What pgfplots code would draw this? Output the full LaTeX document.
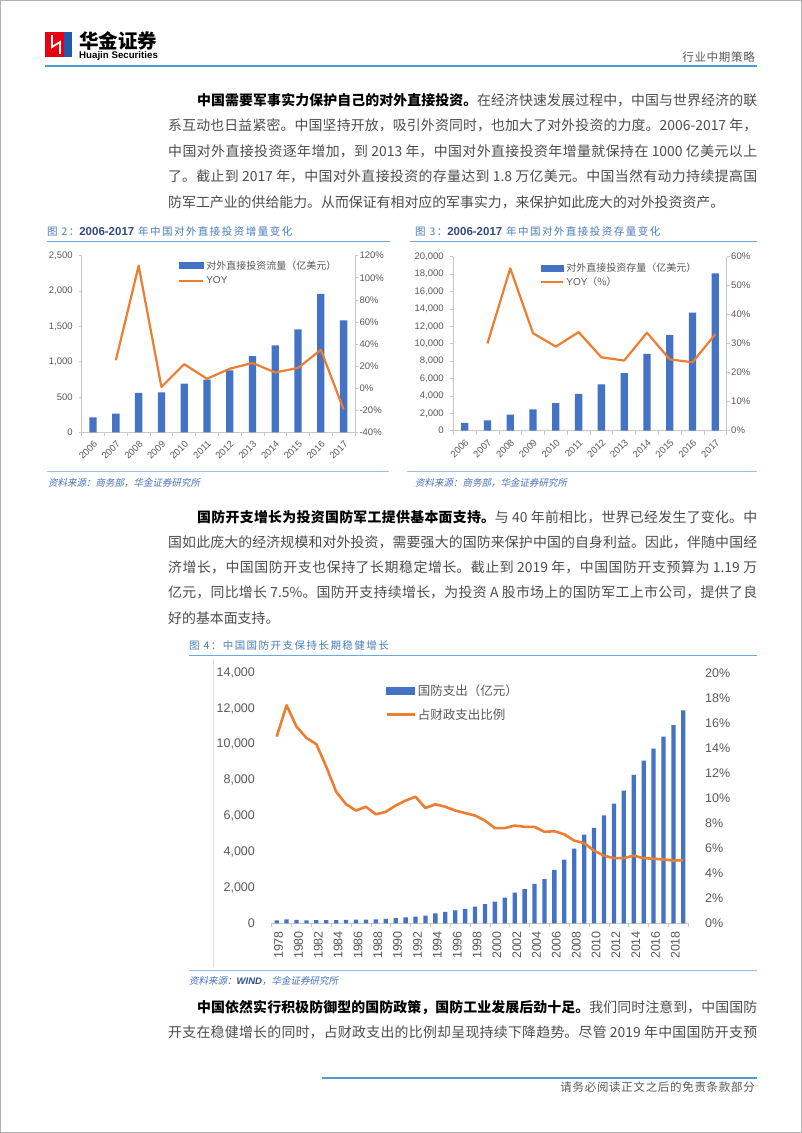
\documentclass[border=0pt]{standalone}
\usepackage{fontspec}
\usepackage{xcolor}
\usepackage{pgfplots}
\pgfplotsset{compat=1.18}
\setmainfont{Noto Sans CJK SC}
\newfontfamily\ttlfont{Noto Sans CJK SC}[LetterSpace=14]
\newfontfamily\hdrfont{Noto Sans CJK SC}[LetterSpace=6]
\newfontfamily\srcfont{Noto Sans CJK SC}[FakeSlant=0.2]
\newfontfamily\arialf{Liberation Sans}
\XeTeXlinebreaklocale "zh"
\XeTeXlinebreakskip=0pt plus 3pt minus 0.3pt

\definecolor{barblue}{HTML}{4472C4}
\definecolor{lineorange}{HTML}{ED7D31}
\definecolor{ttlblue}{HTML}{4A7EBB}
\definecolor{ttlnavy}{HTML}{2F4B86}
\definecolor{rulblue}{HTML}{6FA8DC}
\definecolor{hdrblue}{HTML}{4F9AD8}
\definecolor{axgray}{HTML}{C8C8C8}
\definecolor{tickgray}{HTML}{595959}
\definecolor{bodygray}{HTML}{4D4D4D}
\definecolor{srcblue}{HTML}{4472C4}
\definecolor{logored}{HTML}{E60012}
\definecolor{logoblue}{HTML}{1E5AA8}

\pgfplotsset{
  smallchart/.style={
    scale only axis, anchor=south west,
    xmin=-0.5, xmax=11.5,
    axis line style={-, draw=axgray, line width=0.7pt},
    tick style={draw=axgray, line width=0.7pt},
    major tick length=3pt, minor tick length=4pt, tick align=outside,
    ticklabel style={font=\arialf\fontsize{9.5pt}{10pt}\selectfont, text=tickgray},
    scaled y ticks=false,
    /pgf/number format/1000 sep={,},
    /pgf/number format/assume math mode=true,
    clip=false,
  },
  bigchart/.style={
    scale only axis, anchor=south west,
    xmin=-0.5, xmax=41.5,
    axis line style={-, draw=axgray, line width=0.7pt},
    tick style={draw=axgray, line width=0.7pt},
    minor tick length=4pt, tick align=outside,
    ticklabel style={font=\arialf\fontsize{12.5pt}{13pt}\selectfont, text=tickgray},
    scaled y ticks=false,
    /pgf/number format/1000 sep={,},
    /pgf/number format/assume math mode=true,
    clip=false,
  },
}

\newcommand{\srcline}[1]{{\srcfont\fontsize{9.5pt}{10pt}\selectfont\color{srcblue}#1}}

\begin{document}
\begin{tikzpicture}
\fill[white] (0pt,0pt) rectangle (802pt,-1133pt);
\draw[gray!60, line width=1pt] (0.5pt,-0.5pt) rectangle (801.5pt,-1132.5pt);

% ---------- header ----------
\fill[logored] (45pt,-31.7pt) rectangle (63.5pt,-57pt);
\fill[logoblue] (63.5pt,-31.7pt) rectangle (71.7pt,-57pt);
\draw[white, line width=1.8pt] (52pt,-35pt) -- (52pt,-47pt) -- (60pt,-42pt) -- (60pt,-54pt);
\node[anchor=base west, inner sep=0pt] at (79pt,-48.5pt) {\fontsize{19.5pt}{20pt}\selectfont\bfseries 华金证券};
\node[anchor=base west, inner sep=0pt] at (79pt,-58pt) {\arialf\fontsize{9.7pt}{10pt}\selectfont\bfseries Huajin Securities};
\node[anchor=base east, inner sep=0pt, text=tickgray] at (755pt,-61pt) {\hdrfont\fontsize{11.5pt}{12pt}\selectfont 行业中期策略};
\draw[hdrblue, line width=1.8pt] (45pt,-66pt) -- (757pt,-66pt);

% ---------- paragraph 1 ----------
\node[anchor=base west, inner sep=0pt] at (168pt,-105.2pt) {\parbox[t]{589pt}{\fontsize{13.9pt}{25.5pt}\selectfont\leavevmode\color{bodygray}%
\hspace*{29pt}{\bfseries\color{black}中国需要军事实力保护自己的对外直接投资。}在经济快速发展过程中，中国与世界经济的联\linebreak
系互动也日益紧密。中国坚持开放，吸引外资同时，也加大了对外投资的力度。2006-2017 年，\linebreak
中国对外直接投资逐年增加，到 2013 年，中国对外直接投资年增量就保持在 1000 亿美元以上\linebreak
了。截止到 2017 年，中国对外直接投资的存量达到 1.8 万亿美元。中国当然有动力持续提高国\linebreak
防军工产业的供给能力。从而保证有相对应的军事实力，来保护如此庞大的对外投资资产。}};

% ---------- chart titles 2 & 3 ----------
\node[anchor=base west, inner sep=0pt, text=ttlblue] at (47pt,-235pt) {\ttlfont\fontsize{10.5pt}{12pt}\selectfont 图 2：{\arialf\bfseries\fontsize{11.5pt}{12pt}\selectfont\color{ttlnavy}2006-2017} 年中国对外直接投资增量变化};
\draw[rulblue, line width=0.8pt] (47pt,-241pt) -- (390pt,-241pt);
\node[anchor=base west, inner sep=0pt, text=ttlblue] at (415pt,-235pt) {\ttlfont\fontsize{10.5pt}{12pt}\selectfont 图 3：{\arialf\bfseries\fontsize{11.5pt}{12pt}\selectfont\color{ttlnavy}2006-2017} 年中国对外直接投资存量变化};
\draw[rulblue, line width=0.8pt] (410pt,-241pt) -- (757pt,-241pt);

% ---------- chart 2 (flow) ----------
\begin{axis}[smallchart, at={(81.7pt,-432.3pt)}, width=273.3pt, height=176.6pt,
  ymin=0, ymax=2500, ytick={0,500,...,2500},
  axis x line*=bottom, axis y line*=left,
  yticklabel style={xshift=-2.5pt},
  xtick={0,...,11},
  xticklabels={2006,2007,2008,2009,2010,2011,2012,2013,2014,2015,2016,2017},
  major x tick style={draw=none},
  minor xtick={-0.5,0.5,...,11.5},
  xticklabel style={rotate=45, anchor=north east},
]
\addplot[ybar, bar width=7.3pt, fill=barblue, draw=none] coordinates {
 (0,212) (1,265) (2,559) (3,565) (4,688) (5,746) (6,878) (7,1078) (8,1231) (9,1457) (10,1961) (11,1583)};
\end{axis}
\begin{axis}[smallchart, at={(81.7pt,-432.3pt)}, width=273.3pt, height=176.6pt,
  ymin=-40, ymax=120, ytick={-40,-20,...,120},
  axis y line*=right, axis x line=none,
  yticklabel={\pgfmathprintnumber{\tick}\%},
  yticklabel style={xshift=-2pt},
  legend style={at={(0.352,0.985)}, anchor=north west, draw=none, fill=none,
    font=\fontsize{10pt}{11pt}\selectfont, text=tickgray, inner sep=0pt, row sep=2pt,
    cells={anchor=west}},
]
\addlegendimage{legend image code/.code={\fill[barblue] (0pt,-3pt) rectangle (24pt,3pt);}}
\addlegendentry{对外直接投资流量（亿美元）}
\addplot[lineorange, line width=2.2pt, line join=round,
  legend image code/.code={\draw[lineorange, line width=2.2pt] (0pt,0pt) -- (24pt,0pt);}] coordinates {
 (1,25.3) (2,110.9) (3,1.1) (4,21.7) (5,8.5) (6,17.6) (7,22.8) (8,14.2) (9,18.3) (10,34.7) (11,-19.3)};
\addlegendentry{\arialf YOY}
\end{axis}

% ---------- chart 3 (stock) ----------
\begin{axis}[smallchart, at={(453.3pt,-430.7pt)}, width=273.4pt, height=174pt,
  ymin=0, ymax=20000, ytick={0,2000,...,20000},
  axis x line*=bottom, axis y line*=left,
  yticklabel style={xshift=-3pt},
  xtick={0,...,11},
  xticklabels={2006,2007,2008,2009,2010,2011,2012,2013,2014,2015,2016,2017},
  major x tick style={draw=none},
  minor xtick={-0.5,0.5,...,11.5},
  xticklabel style={rotate=45, anchor=north east},
]
\addplot[ybar, bar width=7.3pt, fill=barblue, draw=none] coordinates {
 (0,906) (1,1179) (2,1840) (3,2458) (4,3172) (5,4248) (6,5319) (7,6605) (8,8826) (9,10979) (10,13574) (11,18090)};
\end{axis}
\begin{axis}[smallchart, at={(453.3pt,-430.7pt)}, width=273.4pt, height=174pt,
  ymin=0, ymax=60, ytick={0,10,...,60},
  axis y line*=right, axis x line=none,
  yticklabel={\pgfmathprintnumber{\tick}\%},
  yticklabel style={xshift=-2pt},
  legend style={at={(0.317,0.975)}, anchor=north west, draw=none, fill=none,
    font=\fontsize{10pt}{11pt}\selectfont, text=tickgray, inner sep=0pt, row sep=0pt,
    cells={anchor=west}},
]
\addlegendimage{legend image code/.code={\fill[barblue] (0pt,-3pt) rectangle (22pt,3pt);}}
\addlegendentry{对外直接投资存量（亿美元）}
\addplot[lineorange, line width=2.2pt, line join=round,
  legend image code/.code={\draw[lineorange, line width=2.2pt] (0pt,0pt) -- (22pt,0pt);}] coordinates {
 (1,30.1) (2,56.0) (3,33.6) (4,29.0) (5,34.0) (6,25.3) (7,24.2) (8,33.8) (9,24.6) (10,23.6) (11,33.3)};
\addlegendentry{{\arialf YOY}（\%）}
\end{axis}

% ---------- sources ----------
\draw[rulblue!70, line width=0.7pt] (47pt,-471.7pt) -- (389pt,-471.7pt);
\draw[rulblue!70, line width=0.7pt] (407pt,-471.7pt) -- (757pt,-471.7pt);
\node[anchor=base west, inner sep=0pt] at (48pt,-486pt) {\srcline{资料来源：商务部，华金证券研究所}};
\node[anchor=base west, inner sep=0pt] at (415pt,-486pt) {\srcline{资料来源：商务部，华金证券研究所}};

% ---------- paragraph 2 ----------
\node[anchor=base west, inner sep=0pt] at (168pt,-522.2pt) {\parbox[t]{589pt}{\fontsize{13.9pt}{25.2pt}\selectfont\leavevmode\color{bodygray}%
\hspace*{29pt}{\bfseries\color{black}国防开支增长为投资国防军工提供基本面支持。}与 40 年前相比，世界已经发生了变化。中\linebreak
国如此庞大的经济规模和对外投资，需要强大的国防来保护中国的自身利益。因此，伴随中国经\linebreak
济增长，中国国防开支也保持了长期稳定增长。截止到 2019 年，中国国防开支预算为 1.19 万\linebreak
亿元，同比增长 7.5\%。国防开支持续增长，为投资 A 股市场上的国防军工上市公司，提供了良\linebreak
好的基本面支持。}};

% ---------- chart 4 ----------
\node[anchor=base west, inner sep=0pt, text=ttlblue] at (189pt,-649pt) {\ttlfont\fontsize{10.5pt}{12pt}\selectfont 图 4：中国国防开支保持长期稳健增长};
\draw[rulblue, line width=0.8pt] (189pt,-655pt) -- (757pt,-655pt);
\draw[gray!25, line width=0.8pt] (213pt,-658pt) -- (213pt,-967pt);

\begin{axis}[bigchart, at={(271.7pt,-923.3pt)}, width=416.6pt, height=250.6pt,
  ymin=0, ymax=14000, ytick={0,2000,...,14000},
  axis x line*=bottom, axis y line*=left,
  y axis line style={draw=none},
  major y tick style={draw=none},
  major x tick style={draw=none},
  xtick={0,2,...,40},
  xticklabels={1978,1980,1982,1984,1986,1988,1990,1992,1994,1996,1998,2000,2002,2004,2006,2008,2010,2012,2014,2016,2018},
  minor xtick={-0.5,1.5,...,41.5},
  xticklabel style={rotate=90, anchor=east, yshift=-2pt},
  yticklabel style={xshift=-9pt},
]
\addplot[ybar, bar width=4.3pt, fill=barblue, draw=none] coordinates {
 (0,167.8) (1,222.6) (2,193.8) (3,168.0) (4,176.4) (5,177.1) (6,180.8) (7,191.5) (8,200.8) (9,209.6)
 (10,218.0) (11,251.5) (12,290.3) (13,330.3) (14,377.9) (15,425.8) (16,550.7) (17,636.7) (18,720.1) (19,812.6)
 (20,934.7) (21,1076.4) (22,1207.5) (23,1442.0) (24,1707.8) (25,1907.9) (26,2200.0) (27,2475.0) (28,2979.4) (29,3554.9)
 (30,4178.8) (31,4951.1) (32,5333.4) (33,6027.9) (34,6691.9) (35,7410.6) (36,8289.5) (37,9087.8) (38,9765.8) (39,10432.4)
 (40,11069.5) (41,11898.8)};
\end{axis}
\begin{axis}[bigchart, at={(271.7pt,-923.3pt)}, width=416.6pt, height=250.6pt,
  ymin=0, ymax=20, ytick={0,2,...,20},
  axis y line*=right, axis x line=none,
  y axis line style={draw=none},
  major y tick style={draw=none},
  yticklabel={\pgfmathprintnumber{\tick}\%},
  yticklabel style={xshift=9pt},
  legend style={at={(0.272,0.962)}, anchor=north west, draw=none, fill=none,
    font=\fontsize{12.5pt}{13pt}\selectfont, text=tickgray, inner sep=0pt, row sep=8pt,
    cells={anchor=west}},
]
\addlegendimage{legend image code/.code={\fill[barblue] (0pt,-3.5pt) rectangle (28pt,3.5pt);}}
\addlegendentry{国防支出（亿元）}
\addplot[lineorange, line width=2.6pt, line join=round,
  legend image code/.code={\draw[lineorange, line width=2.6pt] (0pt,0pt) -- (28pt,0pt);}] coordinates {
 (0,14.9) (1,17.4) (2,15.7) (3,14.8) (4,14.3) (5,12.5) (6,10.5) (7,9.5) (8,9.0) (9,9.3)
 (10,8.7) (11,8.9) (12,9.4) (13,9.8) (14,10.1) (15,9.2) (16,9.5) (17,9.3) (18,9.0) (19,8.8)
 (20,8.6) (21,8.2) (22,7.6) (23,7.6) (24,7.8) (25,7.7) (26,7.7) (27,7.3) (28,7.35) (29,7.1)
 (30,6.6) (31,6.4) (32,5.8) (33,5.4) (34,5.2) (35,5.2) (36,5.4) (37,5.2) (38,5.15) (39,5.1)
 (40,5.0) (41,5.05)};
\addlegendentry{占财政支出比例}
\end{axis}

\draw[rulblue!70, line width=0.7pt] (189pt,-970.7pt) -- (757pt,-970.7pt);
\node[anchor=base west, inner sep=0pt] at (189pt,-984pt) {\srcline{资料来源：{\arialf\itshape\bfseries\color{ttlnavy}WIND}，华金证券研究所}};

% ---------- paragraph 3 ----------
\node[anchor=base west, inner sep=0pt] at (168pt,-1012.2pt) {\parbox[t]{589pt}{\fontsize{13.9pt}{25.5pt}\selectfont\parfillskip=0pt\leavevmode\color{bodygray}%
\hspace*{29pt}{\bfseries\color{black}中国依然实行积极防御型的国防政策，国防工业发展后劲十足。}我们同时注意到，中国国防\linebreak
开支在稳健增长的同时，占财政支出的比例却呈现持续下降趋势。尽管 2019 年中国国防开支预}};

% ---------- footer ----------
\draw[hdrblue, line width=1.8pt] (322pt,-1078pt) -- (757pt,-1078pt);
\node[anchor=base east, inner sep=0pt, text=tickgray] at (755pt,-1091.5pt) {\hdrfont\fontsize{11.5pt}{12pt}\selectfont 请务必阅读正文之后的免责条款部分};
\end{tikzpicture}
\end{document}
